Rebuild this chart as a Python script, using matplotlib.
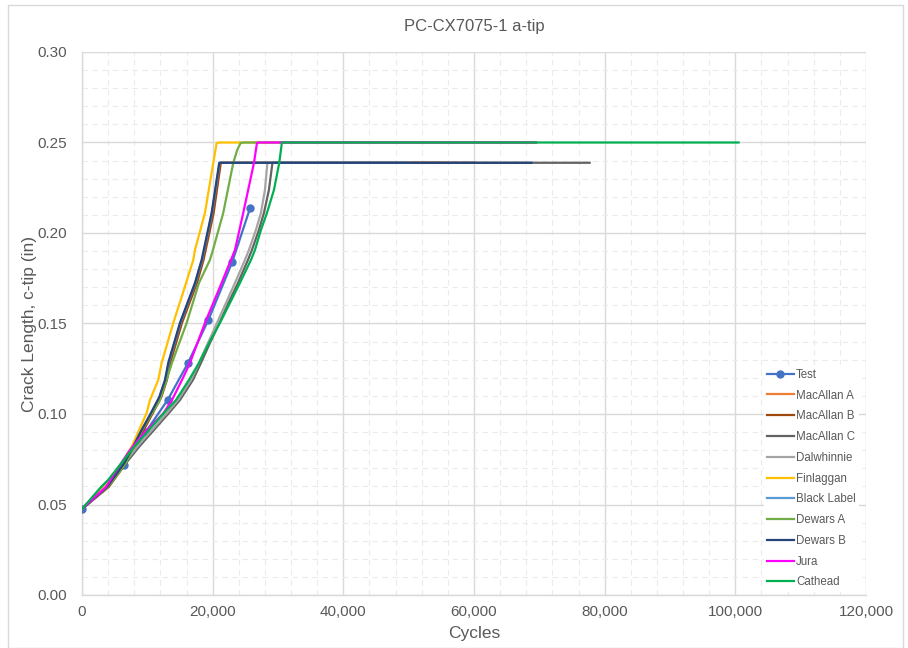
import matplotlib
matplotlib.use("Agg")
import matplotlib.pyplot as plt
from matplotlib.ticker import FuncFormatter, MultipleLocator
from matplotlib.patches import Rectangle

plt.rcParams["font.family"] = ["Liberation Sans", "DejaVu Sans"]

# ── Series data: cycles vs crack length (in) ──
test_n = [0, 6500, 9750, 13150, 16200, 19350, 23000, 25750]
test_a = [0.0475, 0.072, 0.090, 0.108, 0.128, 0.152, 0.184, 0.214]

grp_b_a = [0.0475, 0.0597, 0.0729, 0.0818, 0.0912, 0.1006, 0.1094, 0.1188, 0.1282,
           0.1503, 0.1724, 0.1851, 0.2111, 0.2388, 0.2388]
macallan_a_n = [0, 3950, 6600, 7950, 9300, 10700, 12000, 12850, 13350,
                15150, 17450, 18450, 20000, 21150, 55000]
macallan_b_n = [0, 4100, 6750, 8100, 9450, 10850, 12150, 13000, 13500,
                15300, 17600, 18600, 20150, 21250, 60000]
black_label_n = [0, 3880, 6520, 7870, 9200, 10620, 11900, 12760, 13260,
                 15060, 17350, 18380, 19900, 21060, 50000]
dewars_b_n = [0, 3830, 6470, 7800, 9130, 10560, 11830, 12700, 13200,
              14990, 17290, 18310, 19840, 21010, 68800]

grp_c_a = [0.0475, 0.0597, 0.0635, 0.0718, 0.0818, 0.0912, 0.1006, 0.1077, 0.1188, 0.1282,
           0.1392, 0.1503, 0.1613, 0.1724, 0.1851, 0.1906, 0.2017, 0.2111, 0.2238, 0.2388]
dalwhinnie_n = [0, 3210, 4440, 6270, 8420, 10710, 13010, 14690, 16680, 17900,
                19280, 20660, 22030, 23410, 24940, 25550, 26620, 27390, 28000, 28380]
macallan_c_n = [0, 3370, 4590, 6500, 8720, 11020, 13310, 14990, 16980, 18210,
                19580, 21040, 22410, 23870, 25400, 26010, 27080, 27850, 28610, 29150, 77700]
macallan_c_a = grp_c_a + [0.2388]

finlaggan_n = [0, 3520, 6070, 7600, 9900, 10400, 11670, 12190, 13970, 15250,
               17030, 17290, 18820, 20090, 20610, 21000, 69500]
finlaggan_a = [0.0475, 0.0597, 0.0729, 0.0818, 0.1006, 0.1077, 0.1188, 0.1282, 0.1503, 0.1646,
               0.1851, 0.1906, 0.2111, 0.2387, 0.2497, 0.2500, 0.2500]

dewars_a_n = [0, 3980, 6730, 9180, 11930, 13770, 16020, 17900, 19580, 20040,
              21620, 23150, 23760, 24280, 24700, 69500]
dewars_a_a = [0.0475, 0.0597, 0.0729, 0.0912, 0.1077, 0.1282, 0.1503, 0.1724, 0.1851, 0.1906,
              0.2111, 0.2387, 0.2459, 0.2497, 0.2500, 0.2500]

jura_n = [0, 3670, 5510, 7340, 9640, 12390, 13770, 15300, 16520, 18820,
          21370, 23410, 24680, 26320, 26620, 26780, 27000, 69500]
jura_a = [0.0475, 0.0597, 0.0702, 0.0801, 0.0901, 0.1000, 0.1077, 0.1188, 0.1282, 0.1503,
          0.1724, 0.1906, 0.2111, 0.2387, 0.2459, 0.2497, 0.2500, 0.2500]

cathead_n = [0, 2910, 3980, 5810, 7960, 10250, 12550, 14380, 16370, 17900, 19430,
             21110, 22640, 24170, 25860, 26470, 27390, 28310, 29380, 30190, 30450, 30600, 100500]
cathead_a = [0.0475, 0.0597, 0.0635, 0.0718, 0.0818, 0.0912, 0.1006, 0.1077, 0.1188, 0.1282, 0.1392,
             0.1503, 0.1613, 0.1724, 0.1851, 0.1906, 0.2017, 0.2111, 0.2238, 0.2387, 0.2459, 0.2500, 0.2500]

TXT = "#595959"
GRID = "#D9D9D9"

fig = plt.figure(figsize=(9.08, 6.48), dpi=100)
fig.patch.set_facecolor("white")
fig.patches.append(Rectangle((8 / 908, 0), 895 / 908, 1 - 5 / 648, transform=fig.transFigure,
                             fill=False, edgecolor=GRID, linewidth=1))
ax = fig.add_axes([82 / 908, 1 - 595 / 648, 784 / 908, 543 / 648])

lw = 1.6
ax.plot(test_n, test_a, color="#4472C4", lw=lw, marker="o", markersize=5, label="Test", zorder=3)
ax.plot(macallan_a_n, grp_b_a, color="#ED7D31", lw=lw, label="MacAllan A", zorder=3)
ax.plot(macallan_b_n, grp_b_a, color="#9E480E", lw=lw, label="MacAllan B", zorder=3)
ax.plot(macallan_c_n, macallan_c_a, color="#636363", lw=lw, label="MacAllan C", zorder=3)
ax.plot(dalwhinnie_n, grp_c_a, color="#A5A5A5", lw=lw, label="Dalwhinnie", zorder=3)
ax.plot(finlaggan_n, finlaggan_a, color="#FFC000", lw=lw, label="Finlaggan", zorder=3)
ax.plot(black_label_n, grp_b_a, color="#5B9BD5", lw=lw, label="Black Label", zorder=3)
ax.plot(dewars_a_n, dewars_a_a, color="#70AD47", lw=lw, label="Dewars A", zorder=3)
ax.plot(dewars_b_n, grp_b_a, color="#264478", lw=lw, label="Dewars B", zorder=3)
ax.plot(jura_n, jura_a, color="#FF00FF", lw=lw, label="Jura", zorder=3)
ax.plot(cathead_n, cathead_a, color="#00B050", lw=lw, label="Cathead", zorder=3)

ax.set_xlim(0, 120000)
ax.set_ylim(0, 0.30)
ax.xaxis.set_major_locator(MultipleLocator(20000))
ax.xaxis.set_minor_locator(MultipleLocator(4000))
ax.yaxis.set_major_locator(MultipleLocator(0.05))
ax.yaxis.set_minor_locator(MultipleLocator(0.01))
ax.xaxis.set_major_formatter(FuncFormatter(lambda v, p: f"{v:,.0f}"))
ax.yaxis.set_major_formatter(FuncFormatter(lambda v, p: f"{v:.2f}"))

ax.grid(which="major", color=GRID, lw=1.0, zorder=0)
ax.grid(which="minor", color="#EBEBEB", lw=0.8, ls=(0, (5, 4)), zorder=0)
ax.set_axisbelow(True)
for s in ["top", "right"]:
    ax.spines[s].set_visible(False)
for s in ["left", "bottom"]:
    ax.spines[s].set_color(GRID)
    ax.spines[s].set_linewidth(1.0)
ax.tick_params(which="both", length=0, labelsize=11, labelcolor=TXT)
ax.tick_params(axis="y", pad=11)
ax.tick_params(axis="x", pad=7)

ax.set_title("PC-CX7075-1 a-tip", fontsize=12, color=TXT, pad=15)
ax.set_xlabel("Cycles", fontsize=12.5, color=TXT, labelpad=5)
ax.set_ylabel("Crack Length, c-tip (in)", fontsize=12.5, color=TXT, labelpad=0)

leg = ax.legend(loc="upper left", bbox_to_anchor=(0.8695, 0.423), fontsize=8.3,
                frameon=True, facecolor="white", edgecolor="none", framealpha=1,
                handlelength=2.3, handletextpad=0.2, labelspacing=0.76,
                borderpad=0.3, borderaxespad=0)
for t in leg.get_texts():
    t.set_color(TXT)

fig.savefig("out.png", dpi=100, facecolor="white")
